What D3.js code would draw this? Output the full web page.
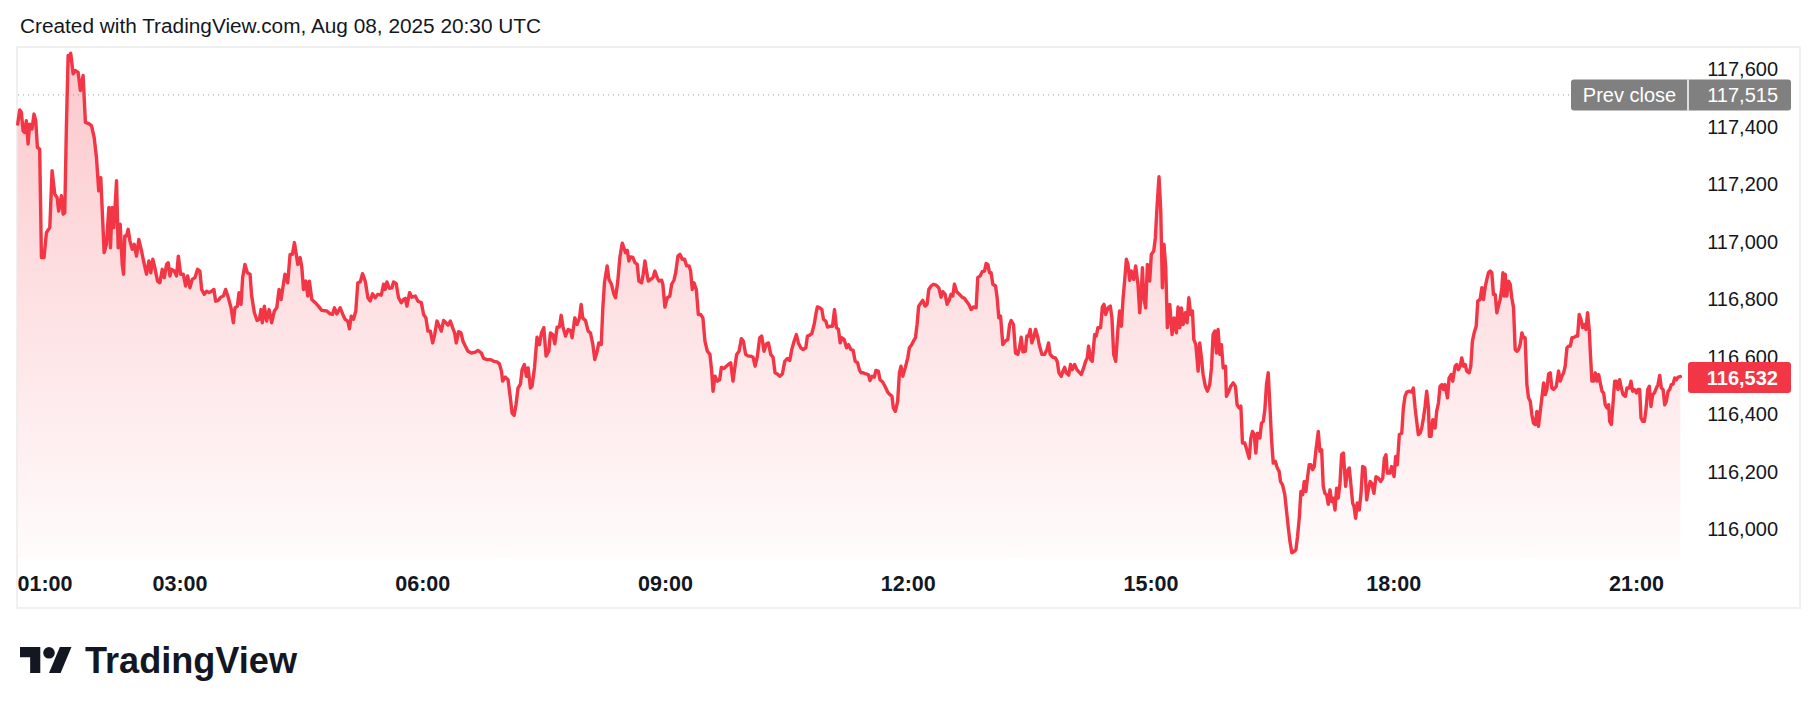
<!DOCTYPE html>
<html><head><meta charset="utf-8">
<script src="https://cdn.jsdelivr.net/npm/d3@7"></script>
<style>html,body{margin:0;padding:0;background:#fff;} svg{display:block;}</style>
</head><body>
<svg id="chart" width="1818" height="713"></svg>
<script>
const titleText = "Created with TradingView.com, Aug 08, 2025 20:30 UTC";
const brandText = "TradingView";
const prevCloseLabel = "Prev close";
const prevClose = 117515;
const lastPrice = 116532;
const yTicks = [116000, 116200, 116400, 116600, 116800, 117000, 117200, 117400, 117600];
const xTicks = [60, 180, 360, 540, 720, 900, 1080, 1260];
const xTickLabels = ["01:00", "03:00", "06:00", "09:00", "12:00", "15:00", "18:00", "21:00"];

// minutes after 00:00
const times = [
60.0,61.5,62.7,64.0,65.2,66.4,67.7,68.9,70.6,72.1,73.4,74.6,76.3,77.6,79.5,81.3,83.8,85.5,87.5,89.2,90.4,92.4,93.7,94.9,96.1,97.4,98.6,99.3,101.1,102.8,104.8,106.5,108.5,110.2,112.2,114.7,116.7,118.4,120.1,121.6,124.1,125.8,127.6,128.8,130.0,131.3,133.3,134.5,136.0,137.5,138.5,139.4,140.7,141.9,143.2,144.9,146.4,148.1,149.8,151.8,153.6,155.5,157.3,158.7,160.2,161.7,163.7,165.4,167.2,168.7,170.4,171.6,172.9,174.1,176.1,177.8,179.1,180.8,182.8,184.5,186.0,187.7,189.4,191.4,193.4,195.1,196.4,198.4,200.1,201.8,203.8,205.5,206.8,208.7,210.5,212.5,214.2,216.2,218.2,219.9,221.1,222.9,224.1,225.6,226.8,228.5,230.3,232.3,233.5,235.5,237.5,239.2,240.4,241.4,242.9,244.6,246.4,248.3,250.3,252.1,253.8,255.3,257.0,258.2,260.2,262.0,263.7,265.2,
267.7,269.4,270.7,271.9,273.6,275.1,276.3,278.1,280.6,283.0,285.5,289.2,291.7,293.4,294.9,296.6,299.1,301.1,302.8,304.8,306.0,307.3,309.0,310.7,312.2,314.0,315.7,317.7,319.7,321.4,323.1,325.1,327.1,329.6,331.3,332.5,333.8,335.5,337.5,338.7,340.7,342.4,344.4,346.1,347.4,348.6,350.6,352.3,354.8,356.8,359.3,361.0,362.7,364.2,366.0,367.7,369.2,370.9,372.6,374.1,375.8,377.6,379.1,380.8,382.5,384.0,385.2,387.0,388.7,390.2,391.9,393.9,396.4,399.4,401.3,403.8,405.5,408.0,410.5,413.0,415.4,417.2,418.7,419.6,421.6,423.6,425.3,426.6,428.1,429.5,431.0,432.8,434.0,435.7,437.2,438.5,440.2,441.4,443.2,445.1,446.9,448.4,450.1,451.8,453.8,455.0,456.8,458.3,460.0,461.7,463.0,464.4,466.2,468.2,469.9,471.1,473.1,
474.8,476.6,477.8,479.0,481.0,483.0,484.7,486.5,487.9,489.7,490.9,492.7,493.9,495.1,497.1,498.4,500.3,502.1,503.3,505.0,506.5,508.3,509.5,510.7,512.0,513.2,514.4,516.2,517.7,519.4,520.6,522.6,523.8,525.1,526.3,527.6,529.3,531.0,532.5,534.2,535.5,537.5,538.4,539.9,541.7,543.6,544.9,546.6,547.9,549.6,551.1,552.8,554.5,556.0,557.8,559.0,560.2,561.5,563.2,564.7,566.4,568.1,569.6,571.4,573.3,574.6,575.6,577.1,578.8,580.5,581.8,583.7,585.5,587.0,588.7,590.4,591.9,593.1,594.9,596.6,598.1,599.8,601.8,603.5,605.3,606.8,608.5,610.2,611.7,613.4,615.2,616.7,618.4,620.1,621.6,623.3,625.1,627.0,628.8,630.8,632.5,634.0,635.7,637.4,638.9,640.7,642.4,644.4,645.6,647.3,648.8,650.6,651.8,653.0,654.8,656.3,657.5,659.2,660.5,662.2,664.2,665.7,667.1,668.6,669.9,671.1,672.8,674.6,676.1,677.8,679.5,681.0,
682.8,684.1,685.3,687.0,689.0,690.8,692.0,693.5,695.2,696.4,698.2,699.4,701.4,703.1,705.1,706.8,708.3,709.3,710.8,712.5,713.8,715.0,716.3,718.2,720.0,721.2,722.9,724.2,725.7,726.9,728.1,729.9,731.1,732.8,734.3,735.6,737.3,739.0,741.0,743.0,744.7,746.0,747.7,749.2,750.9,752.1,753.4,754.6,756.3,758.3,760.3,762.0,763.8,765.3,767.0,768.7,770.7,771.9,773.7,775.2,776.9,778.1,779.4,780.6,781.8,783.1,785.1,786.3,787.5,788.8,790.5,792.2,794.2,795.5,796.7,798.4,799.9,801.6,802.9,804.1,805.4,807.1,808.3,809.6,810.8,812.0,813.3,814.8,816.5,817.7,819.5,821.4,823.2,824.4,825.6,827.6,829.4,830.8,832.1,833.8,835.1,836.3,837.5,839.3,840.7,842.0,843.7,845.4,846.9,848.7,850.4,851.9,853.1,854.1,855.6,856.8,858.6,859.8,861.0,863.0,864.3,865.5,866.7,868.5,870.2,871.4,872.7,874.2,875.9,877.1,878.4,879.6,880.8,882.1,883.3,884.6,885.8,887.5,889.0,
890.7,892.0,893.2,894.0,895.0,896.4,897.7,899.4,900.6,902.4,903.6,904.8,906.3,907.6,908.8,910.0,911.3,912.5,914.3,916.0,917.5,919.2,920.4,921.7,922.9,924.2,925.9,927.1,928.4,929.8,931.1,932.1,933.6,935.3,936.5,937.8,939.0,940.7,942.2,943.9,945.2,946.4,947.7,948.9,950.1,951.4,952.6,953.9,955.6,956.3,958.1,959.5,961.3,963.0,964.2,965.7,967.0,968.2,969.9,971.7,973.2,974.4,975.6,976.9,978.1,979.3,981.1,982.3,983.6,984.8,986.0,987.3,988.5,989.7,991.0,992.5,994.0,995.4,996.4,997.9,999.6,1000.9,1002.1,1003.4,1004.8,1006.3,1007.8,1009.0,1010.3,1011.5,1012.8,1014.0,1015.2,1016.5,1017.7,1018.9,1020.2,1021.4,1022.7,1024.4,1025.6,1026.9,1028.1,1029.3,1030.6,1031.8,1033.1,1034.3,1035.5,1036.8,1038.0,1039.2,1040.5,1041.7,1043.0,1044.7,1045.9,1047.4,1048.6,1049.9,1050.9,1052.1,1053.3,1054.8,1056.1,1057.3,1059.0,1060.3,1061.5,1062.8,1064.0,1065.7,1067.2,1068.9,1070.7,1072.2,1073.4,1074.6,1075.6,1077.6,1078.8,1080.6,1081.8,1083.0,1084.5,1086.3,1087.5,1088.7,1090.0,1092.0,1093.7,1094.9,1096.2,1097.4,
1098.6,1099.9,1101.1,1102.4,1103.6,1104.8,1106.1,1106.8,1108.0,1109.3,1111.0,1112.2,1113.5,1114.7,1116.0,1117.2,1118.4,1120.2,1121.4,1122.9,1124.1,1125.9,1127.1,1128.3,1129.6,1130.8,1132.1,1133.3,1134.5,1136.3,1137.5,1138.7,1140.0,1141.5,1142.7,1144.4,1145.7,1146.9,1148.1,1149.4,1150.6,1151.9,1153.1,1154.3,1155.6,1156.8,1158.0,1159.3,1160.5,1161.3,1162.2,1163.0,1164.2,1165.5,1166.7,1167.9,1169.2,1170.4,1171.7,1172.9,1174.1,1175.4,1176.6,1177.8,1179.1,1180.3,1181.6,1182.8,1184.0,1185.3,1186.5,1187.7,1189.0,1190.2,1191.5,1192.7,1193.9,1195.2,1196.4,1197.6,1198.9,1200.9,1202.6,1203.8,1205.1,1206.3,1207.5,1208.8,1210.0,1211.3,1212.5,1213.7,1215.5,1216.7,1217.9,1219.2,1220.4,1221.6,1222.9,1224.1,1225.4,1226.1,1227.3,1228.6,1229.8,1231.1,1232.3,1233.5,1234.8,1236.0,1237.2,1238.5,1239.7,1240.5,1241.7,1242.9,1244.2,1245.4,1246.6,1247.9,1249.1,1250.4,1252.1,1253.3,1255.1,1256.3,1257.5,1258.8,1260.3,1261.5,1262.7,1263.7,1265.0,1266.2,1267.4,1268.7,1269.9,1271.1,1272.4,1273.6,1275.1,1276.3,1277.6,1278.8,1280.1,1281.3,1282.5,1283.8,1285.0,1286.2,1287.5,1288.7,1290.0,1291.2,1292.9
];

const prices = [
117410,117459,117451,117387,117381,117422,117341,117410,117393,117445,117422,117329,117323,116946,116946,117033,117050,117248,117166,117155,117108,117161,117097,117102,117399,117649,117631,117657,117585,117596,117590,117527,117579,117416,117413,117405,117364,117294,117178,117224,116963,116992,117120,116980,117120,117050,117213,116980,117062,116922,116888,117021,117021,117044,117004,116975,116992,116951,117009,116969,116928,116888,116934,116893,116940,116911,116864,116858,116905,116876,116922,116928,116882,116905,116899,116882,116951,116888,116888,116847,116882,116841,116870,116876,116905,116899,116835,116818,116829,116824,116829,116835,116794,116797,116808,116812,116835,116806,116771,116719,116771,116777,116824,116783,116876,116922,116893,116888,116812,116754,116727,116731,116765,116719,116777,116725,116765,116719,116760,116771,116835,116800,116853,116888,116858,116957,116957,116998,
116922,116946,116911,116835,116864,116812,116864,116800,116789,116777,116762,116760,116750,116748,116771,116750,116771,116748,116731,116725,116698,116742,116731,116760,116858,116861,116890,116864,116806,116795,116820,116806,116818,116815,116853,116835,116861,116839,116841,116861,116855,116806,116789,116800,116804,116777,116824,116808,116812,116794,116789,116748,116736,116690,116690,116649,116678,116725,116707,116690,116727,116719,116711,116725,116702,116684,116649,116688,116684,116655,116638,116620,116614,116617,116623,116614,116595,116591,116591,116585,116583,116576,116551,116516,116530,116521,116458,116405,116397,116434,116492,116506,116556,116574,116533,116562,116492,116498,116562,116669,116643,116684,116702,116603,116620,116684,116678,116646,116704,116704,116745,116704,116673,116696,116692,116667,116736,
116713,116736,116783,116736,116727,116690,116684,116643,116591,116620,116649,116643,116771,116858,116917,116870,116853,116818,116806,116864,116946,116996,116980,116963,116971,116934,116948,116946,116928,116922,116864,116858,116888,116934,116899,116864,116870,116876,116899,116876,116864,116867,116853,116774,116806,116812,116853,116867,116893,116951,116957,116940,116940,116917,116917,116899,116835,116858,116835,116748,116748,116736,116655,116620,116609,116551,116481,116533,116516,116521,116564,116560,116568,116574,116580,116516,116568,116609,116620,116664,116655,116609,116603,116603,116599,116568,116603,116667,116673,116620,116646,116649,116609,116599,116545,116541,116533,116541,116585,116595,116588,116626,116655,116678,116649,116632,116626,116632,116673,116676,116681,116713,116748,116774,116771,116765,116731,116725,116704,116707,116707,116765,116702,116696,116649,116667,116661,116632,116643,116626,116623,116585,
116580,116556,116545,116545,116541,116539,116518,116533,116530,116553,116551,116521,116513,116498,116478,116469,116463,116423,116411,116446,116545,116568,116533,116564,116597,116632,116643,116655,116667,116713,116777,116789,116797,116777,116783,116835,116847,116853,116850,116841,116808,116827,116818,116783,116800,116818,116812,116853,116827,116818,116808,116804,116792,116783,116765,116774,116771,116876,116882,116897,116899,116925,116922,116893,116893,116853,116847,116806,116736,116742,116643,116655,116661,116713,116727,116713,116614,116609,116632,116669,116618,116620,116673,116673,116696,116649,116667,116696,116667,116638,116609,116609,116626,116649,116609,116599,116597,116585,116545,116533,116551,116564,116545,116537,116574,116556,116574,116556,116548,116539,116562,116585,116597,116638,116591,116585,116678,116673,116702,116702,116774,116783,116748,116771,116777,116736,116609,116585,116702,116760,116707,116800,116864,116940,116922,116867,116899,116870,116917,
116853,116754,116829,116911,116806,116771,116922,116864,116957,116969,117015,117120,117227,117108,116841,116992,116911,116702,116783,116678,116736,116684,116774,116702,116771,116713,116754,116719,116806,116748,116760,116661,116643,116551,116649,116597,116539,116498,116481,116504,116562,116678,116690,116614,116696,116609,116643,116562,116568,116463,116481,116498,116510,116498,116434,116423,116429,116301,116301,116272,116248,116318,116341,116330,116266,116335,116318,116370,116376,116417,116504,116545,116434,116318,116231,116237,116214,116202,116167,116155,116121,116063,116010,115958,115919,115923,115929,115975,116039,116132,116121,116167,116132,116184,116225,116225,116208,116219,116277,116341,116272,116277,116150,116126,116121,116088,116138,116097,116109,116068,116144,116109,116161,116260,116266,116150,116202,116214,116155,116092,116080,116039,116092,116068,116126,116219,116214,116103,116138,116167,116161,116126,116184,116179,116167,116179,116248,116260,116196,116196,116219,116184,116254,116225,116330,116335,116423,116463,116478,116481,116478,116492,116423,116376,
116330,116335,116353,116388,116428,116481,116423,116324,116324,116382,116353,116411,116440,116498,116504,116487,116504,116458,116527,116539,116516,116568,116574,116556,116568,116597,116568,116574,116551,116545,116568,116655,116684,116707,116795,116800,116841,116800,116841,116870,116893,116899,116893,116818,116818,116754,116777,116800,116841,116893,116812,116888,116812,116864,116853,116806,116771,116626,116620,116626,116643,116684,116667,116667,116504,116458,116446,116399,116370,116365,116411,116359,116411,116458,116510,116469,116487,116541,116545,116492,116487,116498,116551,116516,116533,116545,116568,116632,116638,116638,116667,116667,116673,116673,116748,116731,116702,116713,116696,116754,116690,116620,116516,116516,116545,116516,116539,116510,116481,116475,116434,116423,116434,116376,116365,116434,116516,116516,116487,116521,116492,116469,116463,116492,116492,116516,116481,116487,116475,116487,116487,116388,116376,116376,116417,116487,116498,116428,116469,116475,116492,116504,116536,116492,116487,116434,116446,116481,116487,116504,116506,116527,116521,116530,116532
];

const data = times.map((t, i) => ({ t, p: prices[i] }));

const W = 1818, H = 713;
const plotLeft = 17, plotTop = 47, frameRight = 1800, frameBottom = 608;
const plotBottom = 557;
const axisLabelRight = 1778;
const boxRight = 1791, boxDivider = 1688, prevBoxLeft = 1571;
const red = "#F23645";
const textColor = "#131722";
const font = "'Liberation Sans', Arial, sans-serif";

const svg = d3.select("#chart");

const x = d3.scaleLinear().domain([60, 1260]).range([17.7, 1636]);
const y = d3.scaleLinear().domain([116000, 117600]).range([529.5, 69.5]);

// Title
svg.append("text")
  .attr("x", 20).attr("y", 33)
  .attr("font-family", font).attr("font-size", 20)
  .attr("fill", textColor)
  .attr("textLength", 521).attr("lengthAdjust", "spacingAndGlyphs")
  .text(titleText);

// Frame
svg.append("rect")
  .attr("x", plotLeft).attr("y", plotTop)
  .attr("width", frameRight - plotLeft).attr("height", frameBottom - plotTop)
  .attr("fill", "none").attr("stroke", "#f0f0f0").attr("stroke-width", 2);

// Gradient
const defs = svg.append("defs");
const grad = defs.append("linearGradient")
  .attr("id", "areaGrad").attr("gradientUnits", "userSpaceOnUse")
  .attr("x1", 0).attr("y1", plotTop).attr("x2", 0).attr("y2", plotBottom);
grad.append("stop").attr("offset", 0).attr("stop-color", red).attr("stop-opacity", 0.28);
grad.append("stop").attr("offset", 1).attr("stop-color", red).attr("stop-opacity", 0.02);

const area = d3.area().x(d => x(d.t)).y0(plotBottom).y1(d => y(d.p));
const line = d3.line().x(d => x(d.t)).y(d => y(d.p));

svg.append("path").datum(data).attr("d", area).attr("fill", "url(#areaGrad)");

// Prev close dotted line
svg.append("line")
  .attr("x1", plotLeft + 1).attr("x2", prevBoxLeft)
  .attr("y1", y(prevClose) + 1).attr("y2", y(prevClose) + 1)
  .attr("stroke", "#9a9a9a").attr("stroke-width", 1).attr("stroke-dasharray", "1 4");

svg.append("path").datum(data).attr("d", line)
  .attr("fill", "none").attr("stroke", red).attr("stroke-width", 3.4)
  .attr("stroke-linejoin", "round").attr("stroke-linecap", "round");

// Y axis
const yAxis = svg.append("g")
  .attr("transform", `translate(${axisLabelRight},0)`)
  .call(d3.axisRight(y).tickValues(yTicks).tickFormat(d3.format(",")).tickSize(0).tickPadding(0));
yAxis.select(".domain").remove();
yAxis.selectAll("text")
  .attr("text-anchor", "end").attr("x", 0).attr("dy", "0.3em")
  .attr("font-family", font).attr("font-size", 20).attr("fill", textColor);

// X axis
const xAxis = svg.append("g")
  .attr("transform", `translate(0,${plotBottom})`)
  .call(d3.axisBottom(x).tickValues(xTicks).tickFormat((d, i) => xTickLabels[i]).tickSize(0).tickPadding(0));
xAxis.select(".domain").remove();
xAxis.selectAll("text")
  .attr("y", 34).attr("dy", 0)
  .attr("font-family", font).attr("font-size", 21.5).attr("font-weight", "bold").attr("fill", textColor)
  .attr("text-anchor", (d, i) => i === 0 ? "start" : "middle")
  .attr("x", (d, i) => i === 0 ? plotLeft - x(d) : 0);

// Prev close label box
const pcY = y(prevClose) + 1;
svg.append("rect")
  .attr("x", prevBoxLeft).attr("y", pcY - 15.5)
  .attr("width", boxRight - prevBoxLeft).attr("height", 31)
  .attr("rx", 3).attr("fill", "#808080");
svg.append("line")
  .attr("x1", boxDivider).attr("x2", boxDivider)
  .attr("y1", pcY - 15.5).attr("y2", pcY + 15.5)
  .attr("stroke", "#ffffff").attr("stroke-width", 1.5);
svg.append("text")
  .attr("x", (prevBoxLeft + boxDivider) / 2).attr("y", pcY).attr("dy", "0.35em")
  .attr("text-anchor", "middle").attr("font-family", font).attr("font-size", 20)
  .attr("fill", "#ffffff").text(prevCloseLabel);
svg.append("text")
  .attr("x", axisLabelRight).attr("y", pcY).attr("dy", "0.35em")
  .attr("text-anchor", "end").attr("font-family", font).attr("font-size", 20)
  .attr("fill", "#ffffff").text(d3.format(",")(prevClose));

// Last price box
const lpY = y(lastPrice) + 1;
svg.append("rect")
  .attr("x", boxDivider).attr("y", lpY - 15.5)
  .attr("width", boxRight - boxDivider).attr("height", 31)
  .attr("rx", 3).attr("fill", red);
svg.append("text")
  .attr("x", axisLabelRight).attr("y", lpY).attr("dy", "0.35em")
  .attr("text-anchor", "end").attr("font-family", font).attr("font-size", 20).attr("font-weight", "bold")
  .attr("fill", "#ffffff").text(d3.format(",")(lastPrice));

// Brand logo
const logo = svg.append("g").attr("transform", "translate(20,641.2) scale(1.45)").attr("fill", textColor);
logo.append("path").attr("d", "M14 22H7V11H0V4h14v18z");
logo.append("circle").attr("cx", 20).attr("cy", 8).attr("r", 4);
logo.append("path").attr("d", "M28 22h-8l7.5-18h8L28 22z");
svg.append("text")
  .attr("x", 85).attr("y", 673)
  .attr("font-family", font).attr("font-size", 36).attr("font-weight", "bold")
  .attr("fill", textColor).attr("textLength", 212).attr("lengthAdjust", "spacingAndGlyphs")
  .text(brandText);
</script>
</body></html>
